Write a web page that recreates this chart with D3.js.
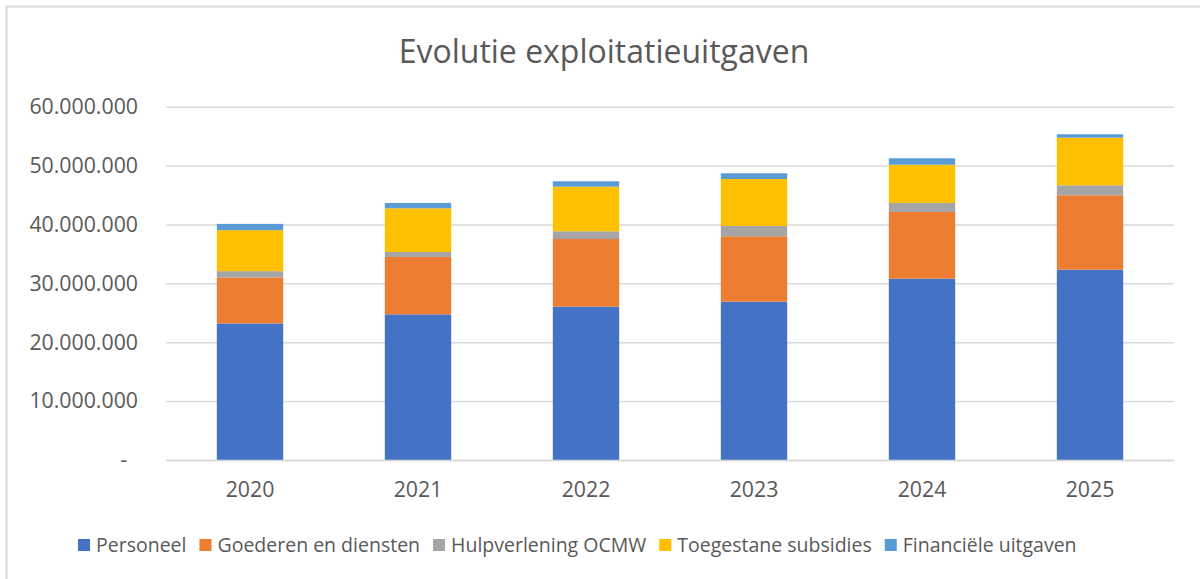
<!DOCTYPE html>
<html>
<head>
	<meta charset="utf-8">
	<title>Evolutie exploitatieuitgaven</title>
	<script type="text/javascript" src="https://cdn.jsdelivr.net/npm/d3@7"></script>
	<style>
		body {
			margin: 0;
			background: #fff;
			font-family: "Open Sans", "Noto Sans", sans-serif;
		}
	</style>
</head>

<body>

	<div id="chart"></div>

	<script>

	// data (in euro)

	const years = ["2020", "2021", "2022", "2023", "2024", "2025"];
	const seriesNames = ["Personeel", "Goederen en diensten", "Hulpverlening OCMW", "Toegestane subsidies", "Financiële uitgaven"];
	const personeel  = [23200000, 24740000, 26040000, 26890000, 30800000, 32320000];
	const goederen   = [ 7800000,  9740000, 11490000, 11100000, 11320000, 12640000];
	const hulp       = [ 1070000,   850000,  1310000,  1750000,  1530000,  1690000];
	const subsidies  = [ 6960000,  7420000,  7580000,  7980000,  6500000,  8090000];
	const financieel = [ 1070000,   900000,   910000,   970000,  1090000,   580000];
	const yTicks     = [0, 10000000, 20000000, 30000000, 40000000, 50000000, 60000000];

	// customization

	const width       = 1200;
	const height      = 579;
	const colors      = ["#4472C4", "#ED7D31", "#A5A5A5", "#FFC000", "#5B9BD5"];
	const textColor   = "#595959";
	const gridColor   = "#d9d9d9";
	const marginLeft  = 166;
	const marginRight = 26;
	const yTop        = 106.7;
	const yBottom     = 460;

	const table = years.map((yr, i) => ({
		year: yr,
		"Personeel": personeel[i],
		"Goederen en diensten": goederen[i],
		"Hulpverlening OCMW": hulp[i],
		"Toegestane subsidies": subsidies[i],
		"Financiële uitgaven": financieel[i],
	}));

	const stacked = d3.stack().keys(seriesNames)(table);

	const nl = d3.formatLocale({ decimal: ",", thousands: ".", grouping: [3], currency: ["€", ""] });
	const fmt = nl.format(",.0f");

	const x = d3.scaleBand()
		.domain(years)
		.range([marginLeft, width - marginRight])
		.paddingInner(0.605)
		.paddingOuter(0.3025);

	const y = d3.scaleLinear()
		.domain([0, 60000000])
		.range([yBottom, yTop]);

	const color = d3.scaleOrdinal(seriesNames, colors);

	const svg = d3.select("#chart")
		.append("svg")
		.attr("width", width)
		.attr("height", height)
		.attr("viewBox", [0, 0, width, height]);

	// chart area border
	svg.append("rect")
		.attr("x", 6.5)
		.attr("y", 6.5)
		.attr("width", width + 20)
		.attr("height", height + 20)
		.attr("fill", "#fff")
		.attr("stroke", gridColor)
		.attr("stroke-width", 2);

	// title
	svg.append("text")
		.attr("x", 604)
		.attr("y", 63)
		.attr("text-anchor", "middle")
		.attr("fill", textColor)
		.style("font-size", "32px")
		.text("Evolutie exploitatieuitgaven");

	// y axis with gridlines
	svg.append("g")
		.attr("transform", `translate(${marginLeft},0)`)
		.call(d3.axisLeft(y).tickValues(yTicks).tickFormat(d => d === 0 ? "-" : fmt(d)).tickSize(0).tickPadding(28))
		.call(g => g.select(".domain").remove())
		.call(g => g.selectAll(".tick line").clone()
			.attr("x2", width - marginLeft - marginRight)
			.attr("stroke", gridColor)
			.attr("stroke-width", 1.5))
		.call(g => g.selectAll(".tick text")
			.attr("fill", textColor)
			.style("font-size", "21.3px")
			.style("font-family", "'Open Sans', sans-serif"))
		.call(g => g.selectAll(".tick").filter(d => d === 0).select("text").attr("dx", -11));

	// bars
	svg.append("g")
		.selectAll("g")
		.data(stacked)
		.join("g")
		.attr("fill", d => color(d.key))
		.selectAll("rect")
		.data(d => d)
		.join("rect")
		.attr("x", d => x(d.data.year))
		.attr("y", d => y(d[1]))
		.attr("height", d => y(d[0]) - y(d[1]))
		.attr("width", x.bandwidth());

	// x axis
	svg.append("g")
		.attr("transform", `translate(0,${yBottom})`)
		.call(d3.axisBottom(x).tickSize(0).tickPadding(22))
		.call(g => g.select(".domain")
			.attr("stroke", gridColor)
			.attr("stroke-width", 1.5))
		.call(g => g.selectAll(".tick text")
			.attr("fill", textColor)
			.style("font-size", "21.3px")
			.style("font-family", "'Open Sans', sans-serif"));

	// legend
	const legend = svg.append("g")
		.style("font-size", "19.5px")
		.attr("fill", textColor);

	let lx = 78;
	seriesNames.forEach(name => {
		legend.append("rect")
			.attr("x", lx)
			.attr("y", 539)
			.attr("width", 12)
			.attr("height", 12)
			.attr("fill", color(name));
		const t = legend.append("text")
			.attr("x", lx + 18)
			.attr("y", 552)
			.text(name);
		lx += 18 + t.node().getComputedTextLength() + 13;
	});

	</script>

</body>

</html>
